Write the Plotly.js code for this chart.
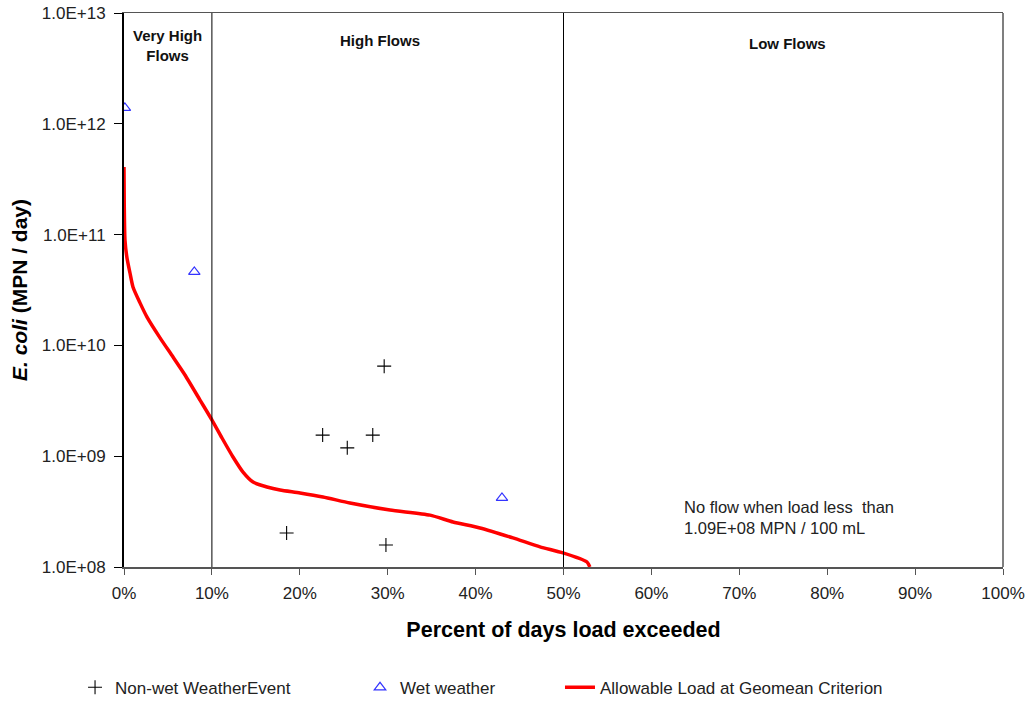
<!DOCTYPE html>
<html>
<head>
<meta charset="utf-8">
<script src="https://cdn.plot.ly/plotly-3.0.1.min.js"></script>
<style>html,body{margin:0;padding:0;background:#fff;}#chart{width:1032px;height:702px;}</style>
</head>
<body>
<div id="chart"></div>
<script>
// Non-wet weather event samples
const nonWetX = [18.5, 22.6, 25.4, 28.3, 29.6, 29.8];
const nonWetY = [2.03e8, 1.55e9, 1.19e9, 1.55e9, 6.5e9, 1.58e8];

// Wet weather samples
const wetX = [0.1, 8.0, 43.0];
const wetY = [1.39e12, 4.6e10, 4.2e8];

// Allowable load curve (percent of days exceeded vs load)
const curveX = [0, 0.03, 0.11, 0.34, 0.68, 1.02, 1.82, 2.62, 4.10, 5.58, 6.94, 8.65, 10.01, 11.15, 12.40, 13.54, 14.68, 16.27, 17.75, 20.02, 22.64, 25.71, 30.26, 34.81, 37.43, 40.50, 44.25, 47.33, 49.94, 52.67, 53.0];
const curveY = [4.07e11, 1.85e11, 8.93e10, 6.15e10, 4.50e10, 3.37e10, 2.42e10, 1.80e10, 1.17e10, 7.85e9, 5.41e9, 3.21e9, 2.12e9, 1.46e9, 9.84e8, 7.19e8, 5.85e8, 5.27e8, 4.95e8, 4.66e8, 4.29e8, 3.78e8, 3.27e8, 2.94e8, 2.55e8, 2.25e8, 1.83e8, 1.52e8, 1.34e8, 1.11e8, 1.0e8];

// Axis ticks
const xTickVals = [0, 10, 20, 30, 40, 50, 60, 70, 80, 90, 100];
const xTickText = ['0%', '10%', '20%', '30%', '40%', '50%', '60%', '70%', '80%', '90%', '100%'];
const yTickVals = [1e8, 1e9, 1e10, 1e11, 1e12, 1e13];
const yTickText = ['1.0E+08', '1.0E+09', '1.0E+10', '1.0E+11', '1.0E+12', '1.0E+13'];

// Flow regime boundaries and labels
const boundaries = [10, 50];
const regimeLabels = ['Very High<br>Flows', 'High Flows', 'Low Flows'];
const regimeX = [5, 29.1, 75.5];
const noteText = 'No flow when load less&nbsp;&nbsp;than<br>1.09E+08 MPN / 100 mL';

const FONT = 'Liberation Sans, Arial, sans-serif';

const traces = [
  {
    x: nonWetX, y: nonWetY, type: 'scatter', mode: 'markers',
    name: 'Non-wet WeatherEvent', legend: 'legend',
    marker: {symbol: 'cross-thin-open', size: 10, color: '#000', line: {color: '#000', width: 1.1}}
  },
  {
    x: wetX, y: wetY, type: 'scatter', mode: 'markers',
    name: 'Wet weather', legend: 'legend2',
    marker: {symbol: 'triangle-up-open', size: 10, color: '#3333ff', line: {color: '#3333ff', width: 1.2}}
  },
  {
    x: curveX, y: curveY, type: 'scatter', mode: 'lines',
    name: 'Allowable Load at Geomean Criterion', legend: 'legend3',
    line: {color: '#ff0000', width: 3.5, shape: 'spline', smoothing: 0.6}
  }
];

const legendBase = {
  orientation: 'h', yanchor: 'middle', y: -0.218, xanchor: 'left',
  font: {family: FONT, size: 17, color: '#222'}, bgcolor: 'rgba(0,0,0,0)'
};

const annotations = regimeLabels.map((t, i) => ({
  x: regimeX[i], xref: 'x', y: i === 0 ? 0.942 : (i === 1 ? 0.951 : 0.945), yref: 'paper',
  text: '<b>' + t + '</b>', showarrow: false,
  font: {family: FONT, size: 15, color: '#111'}, xanchor: 'center', yanchor: 'middle'
}));
annotations.push({
  x: 63.5, xref: 'x', y: 0.089, yref: 'paper', text: noteText, showarrow: false,
  xanchor: 'left', yanchor: 'middle', align: 'left',
  font: {family: FONT, size: 16.5, color: '#222'}
});

const shapes = boundaries.map(b => ({
  type: 'line', xref: 'x', yref: 'paper', x0: b, x1: b, y0: 0, y1: 1,
  line: {color: '#000', width: 1}
}));

const layout = {
  width: 1032, height: 702,
  margin: {l: 124, r: 29, t: 13, b: 135, autoexpand: false},
  paper_bgcolor: '#fff', plot_bgcolor: '#fff',
  font: {family: FONT, color: '#222'},
  xaxis: {
    range: [0, 100], tickvals: xTickVals, ticktext: xTickText, automargin: false,
    showgrid: false, zeroline: false, showline: true, linecolor: '#555', linewidth: 1.5,
    mirror: true, ticks: 'outside', ticklen: 6, tickcolor: '#555', ticklabelstandoff: 4,
    tickfont: {family: FONT, size: 17, color: '#222'},
    title: {text: '<b>Percent of days load exceeded</b>', font: {family: FONT, size: 21.5, color: '#000'}, standoff: 20}
  },
  yaxis: {
    type: 'log', range: [8, 13], tickvals: yTickVals, ticktext: yTickText, automargin: false,
    showgrid: false, zeroline: false, showline: true, linecolor: '#000', linewidth: 2,
    mirror: false, ticks: 'outside', ticklen: 8, tickcolor: '#000', ticklabelstandoff: 5,
    tickfont: {family: FONT, size: 17, color: '#222'},
    title: {text: '<b><i>E. coli</i> (MPN / day)</b>', font: {family: FONT, size: 21, color: '#000'}, standoff: 8}
  },
  shapes: shapes.concat([{
    type: 'line', xref: 'paper', yref: 'paper', x0: 1, x1: 1, y0: 0, y1: 1, line: {color: '#555', width: 1.5}
  }]),
  annotations: annotations,
  showlegend: true,
  legend: Object.assign({}, legendBase, {x: -0.0557}),
  legend2: Object.assign({}, legendBase, {x: 0.2685}),
  legend3: Object.assign({}, legendBase, {x: 0.4960})
};

Plotly.newPlot('chart', traces, layout, {displayModeBar: false, staticPlot: true});
</script>
</body>
</html>
